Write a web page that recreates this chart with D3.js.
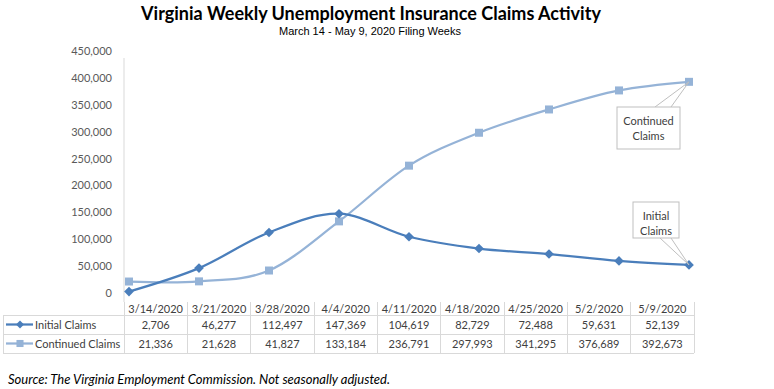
<!DOCTYPE html>
<html>
<head>
<meta charset="utf-8">
<script src="https://cdn.jsdelivr.net/npm/d3@7"></script>
<style>
    body { margin: 0; background: #fff; }
    svg { display: block; }
    .tick-label { font-family: Lato, "Open Sans", sans-serif; font-size: 11px; fill: #595959; }
    .table-text { font-family: Lato, "Open Sans", sans-serif; font-size: 11px; fill: #404040; }
</style>
</head>
<body>
<div id="chart"></div>
<script>
const weeks = ['3/14/2020', '3/21/2020', '3/28/2020', '4/4/2020', '4/11/2020', '4/18/2020', '4/25/2020', '5/2/2020', '5/9/2020'];
const initialClaims = [2706, 46277, 112497, 147369, 104619, 82729, 72488, 59631, 52139];
const continuedClaims = [21336, 21628, 41827, 133184, 236791, 297993, 341295, 376689, 392673];
const yTicks = [0, 50000, 100000, 150000, 200000, 250000, 300000, 350000, 400000, 450000];

const SERIES = [
    { label: 'Initial Claims', values: initialClaims, color: '#4A7EBB', marker: 'diamond' },
    { label: 'Continued Claims', values: continuedClaims, color: '#95B3D7', marker: 'square' }
];

const width = 774;
const height = 389;
const gridColor = '#d9d9d9';

const svg = d3.select('#chart').append('svg')
    .attr('width', width)
    .attr('height', height);

// titles
svg.append('text')
    .attr('x', 371)
    .attr('y', 20)
    .attr('text-anchor', 'middle')
    .attr('font-family', 'Lato, "Open Sans", sans-serif')
    .attr('font-weight', 'bold')
    .attr('font-size', 18)
    .attr('fill', '#000')
    .text('Virginia Weekly Unemployment Insurance Claims Activity');

svg.append('text')
    .attr('x', 370)
    .attr('y', 35)
    .attr('text-anchor', 'middle')
    .attr('font-family', '"Liberation Sans Narrow", "Liberation Sans", sans-serif')
    .attr('font-size', 11)
    .attr('fill', '#000')
    .text('March 14 - May 9, 2020 Filing Weeks');

const xScale = d3.scalePoint()
    .domain(weeks)
    .range([129, 689]);

const yScale = d3.scaleLinear()
    .domain([0, 450000])
    .range([293, 51]);

const columnScale = d3.scaleBand()
    .domain(weeks)
    .range([124, 694]);

// y axis
svg.append('line')
    .attr('x1', 124).attr('x2', 124)
    .attr('y1', 58).attr('y2', 302)
    .attr('stroke', gridColor);

svg.append('g')
    .selectAll('text')
    .data(yTicks)
    .join('text')
    .attr('class', 'tick-label')
    .attr('x', 112)
    .attr('y', (value) => yScale(value) + 4)
    .attr('text-anchor', 'end')
    .text((value) => d3.format(',')(value));

// series lines
const lineGenerator = d3.line()
    .x((datum, index) => xScale(weeks[index]))
    .y((datum) => yScale(datum))
    .curve(d3.curveCatmullRom.alpha(0));

const diamond = d3.symbol().type(d3.symbolDiamond2).size(60);
const square = d3.symbol().type(d3.symbolSquare).size(64);

// draw continued first so initial sits on top
[SERIES[1], SERIES[0]].forEach((series) => {
    svg.append('path')
        .datum(series.values)
        .attr('fill', 'none')
        .attr('stroke', series.color)
        .attr('stroke-width', 2.25)
        .attr('stroke-linejoin', 'round')
        .attr('d', lineGenerator);

    svg.append('g')
        .selectAll('path')
        .data(series.values)
        .join('path')
        .attr('transform', (datum, index) => `translate(${xScale(weeks[index])},${yScale(datum)})`)
        .attr('d', series.marker === 'diamond' ? diamond : square)
        .attr('fill', series.color);
});

// callouts
function drawCallout(box, pointer, lines, target) {
    const group = svg.append('g');
    group.append('path')
        .attr('d', `M${pointer[0]},${pointer[2]} L${target[0]},${target[1]} L${pointer[1]},${pointer[2]}`)
        .attr('fill', 'none')
        .attr('stroke', '#bfbfbf');
    group.append('rect')
        .attr('x', box.x).attr('y', box.y)
        .attr('width', box.w).attr('height', box.h)
        .attr('fill', '#fff')
        .attr('stroke', '#bfbfbf');
    lines.forEach((line, index) => {
        group.append('text')
            .attr('class', 'table-text')
            .attr('font-size', 11.5)
            .attr('x', box.x + box.w / 2)
            .attr('y', box.y + 18 + index * 15)
            .attr('text-anchor', 'middle')
            .text(line);
    });
}

const lastWeek = weeks[weeks.length - 1];
drawCallout(
    { x: 617, y: 107, w: 63, h: 42 },
    [655, 671, 107],
    ['Continued', 'Claims'],
    [xScale(lastWeek), yScale(continuedClaims[continuedClaims.length - 1])]
);
drawCallout(
    { x: 633, y: 202, w: 46, h: 36 },
    [660, 671, 238],
    ['Initial', 'Claims'],
    [xScale(lastWeek), yScale(initialClaims[initialClaims.length - 1])]
);

// data table
const tableTop = 302;
const headerBottom = 315;
const rowHeight = 19;
const tableBottom = headerBottom + rowHeight * 2;
const legendLeft = 3;

const table = svg.append('g').attr('stroke', gridColor).attr('shape-rendering', 'crispEdges');

[headerBottom, headerBottom + rowHeight, tableBottom].forEach((y) => {
    table.append('line')
        .attr('x1', legendLeft).attr('x2', 694)
        .attr('y1', y).attr('y2', y);
});

table.append('line')
    .attr('x1', legendLeft).attr('x2', legendLeft)
    .attr('y1', headerBottom).attr('y2', tableBottom);

weeks.concat(['end']).forEach((week, index) => {
    const x = 124 + index * columnScale.bandwidth();
    table.append('line')
        .attr('x1', x).attr('x2', x)
        .attr('y1', tableTop).attr('y2', tableBottom);
});

svg.append('g')
    .selectAll('text')
    .data(weeks)
    .join('text')
    .attr('class', 'table-text')
    .attr('x', (week) => columnScale(week) + columnScale.bandwidth() / 2)
    .attr('y', tableTop + 10.5)
    .attr('text-anchor', 'middle')
    .text((week) => week);

SERIES.forEach((series, rowIndex) => {
    const rowMiddle = headerBottom + rowHeight * rowIndex + rowHeight / 2;

    svg.append('line')
        .attr('x1', 6).attr('x2', 33)
        .attr('y1', rowMiddle).attr('y2', rowMiddle)
        .attr('stroke', series.color)
        .attr('stroke-width', 2.25);

    svg.append('path')
        .attr('transform', `translate(20,${rowMiddle})`)
        .attr('d', series.marker === 'diamond' ? d3.symbol().type(d3.symbolDiamond2).size(40) : d3.symbol().type(d3.symbolSquare).size(50))
        .attr('fill', series.color);

    svg.append('text')
        .attr('class', 'table-text')
        .attr('x', 35)
        .attr('y', rowMiddle + 4)
        .text(series.label);

    svg.append('g')
        .selectAll('text')
        .data(series.values)
        .join('text')
        .attr('class', 'table-text')
        .attr('x', (datum, index) => columnScale(weeks[index]) + columnScale.bandwidth() / 2)
        .attr('y', rowMiddle + 4)
        .attr('text-anchor', 'middle')
        .text((datum) => d3.format(',')(datum));
});

// source note
svg.append('text')
    .attr('x', 8)
    .attr('y', 384)
    .attr('font-family', 'Lato, "Open Sans", sans-serif')
    .attr('font-style', 'italic')
    .attr('font-size', 13)
    .attr('fill', '#000')
    .text('Source: The Virginia Employment Commission. Not seasonally adjusted.');
</script>
</body>
</html>
